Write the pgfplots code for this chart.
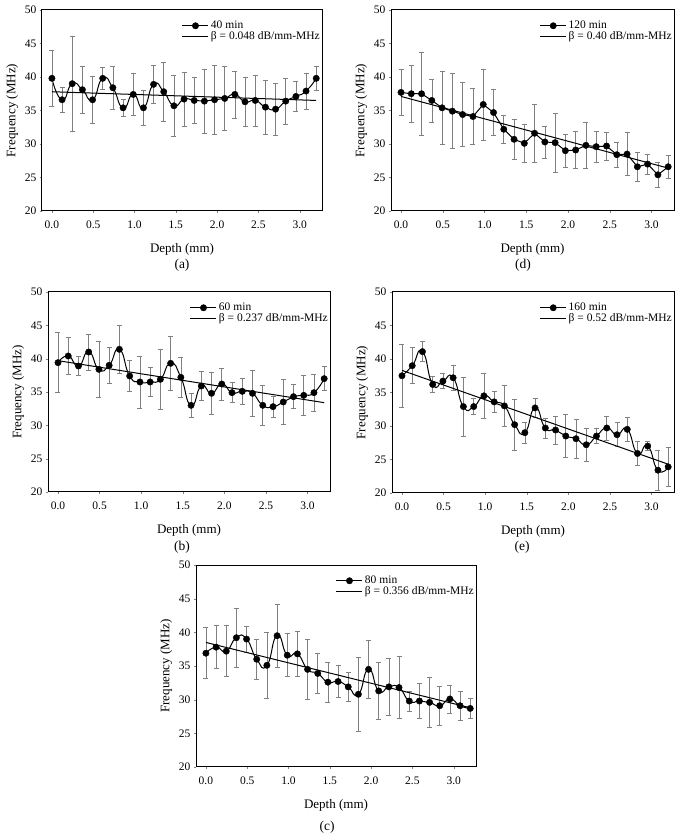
\documentclass[border=0pt]{standalone}
\usepackage{fontspec}
\setmainfont{Liberation Serif}
\usepackage{pgfplots}
\usepackage{pgfplotstable}
\pgfplotsset{compat=1.18}

% depth (mm), mean frequency (MHz), std
\pgfplotstableread{
x     y     e
0.000 39.8 4.2
0.123 36.6 1.9
0.246 39.0 7.1
0.369 38.1 3.5
0.492 36.6 3.5
0.615 39.8 1.6
0.738 38.4 3.2
0.862 35.4 1.3
0.985 37.4 3.1
1.108 35.4 2.6
1.231 38.9 2.9
1.354 37.8 4.4
1.477 35.7 4.5
1.600 36.7 4.0
1.723 36.5 3.4
1.846 36.4 4.8
1.969 36.6 5.2
2.092 36.8 4.8
2.215 37.4 3.5
2.338 36.3 3.7
2.462 36.5 3.8
2.585 35.5 4.0
2.708 35.2 3.9
2.831 36.4 3.4
2.954 37.1 2.2
3.077 37.9 2.7
3.200 39.8 1.8
}\tabA

\pgfplotstableread{
x     y     e
0.000 39.4 4.5
0.123 40.4 2.8
0.246 38.9 1.4
0.369 41.0 2.7
0.492 38.4 4.2
0.615 39.0 2.7
0.738 41.4 3.6
0.862 37.4 2.3
0.985 36.5 3.9
1.108 36.5 2.2
1.231 36.9 4.5
1.354 39.3 4.0
1.477 37.2 3.0
1.600 33.0 1.8
1.723 35.9 2.2
1.846 34.8 3.1
1.969 36.2 2.4
2.092 34.9 1.5
2.215 35.1 2.0
2.338 34.8 3.4
2.462 33.0 3.0
2.585 32.8 1.6
2.708 33.5 3.4
2.831 34.3 1.8
2.954 34.5 3.0
3.077 34.9 2.8
3.200 37.0 1.8
}\tabB

\pgfplotstableread{
x     y     e
0.000 36.9 3.8
0.123 37.8 3.2
0.246 37.2 3.8
0.369 39.2 4.4
0.492 39.0 1.9
0.615 36.0 3.0
0.738 35.1 4.9
0.862 39.5 4.7
0.985 36.6 3.2
1.108 36.8 3.4
1.231 34.5 4.4
1.354 33.9 3.0
1.477 32.6 3.0
1.600 32.7 2.4
1.723 31.9 2.2
1.846 30.8 5.5
1.969 34.5 4.3
2.092 31.3 4.2
2.215 31.9 4.2
2.338 31.8 4.6
2.462 29.8 1.5
2.585 29.8 2.6
2.708 29.6 3.7
2.831 29.1 2.9
2.954 30.1 2.1
3.077 29.1 2.1
3.200 28.7 1.5
}\tabC

\pgfplotstableread{
x     y     e
0.000 37.7 3.4
0.123 37.5 4.3
0.246 37.5 6.2
0.369 36.5 3.2
0.492 35.4 5.4
0.615 34.9 5.6
0.738 34.4 4.8
0.862 34.1 4.2
0.985 35.9 5.3
1.108 34.7 3.4
1.231 32.2 2.1
1.354 30.7 3.0
1.477 30.1 2.9
1.600 31.6 4.3
1.723 30.3 2.4
1.846 30.2 4.4
1.969 29.0 2.5
2.092 29.1 2.8
2.215 29.8 3.4
2.338 29.6 2.3
2.462 29.7 2.1
2.585 28.4 1.9
2.708 28.5 3.2
2.831 26.6 2.2
2.954 27.0 1.5
3.077 25.4 1.9
3.200 26.6 1.7
}\tabD

\pgfplotstableread{
x     y     e
0.000 37.5 4.7
0.123 39.0 2.7
0.246 41.1 1.5
0.369 36.2 1.2
0.492 36.7 1.1
0.615 37.2 1.9
0.738 32.9 4.4
0.862 32.9 1.2
0.985 34.5 3.3
1.108 33.6 1.6
1.231 33.0 3.0
1.354 30.2 3.8
1.477 29.0 1.6
1.600 32.7 1.4
1.723 29.7 1.5
1.846 29.4 2.1
1.969 28.5 3.2
2.092 28.1 2.9
2.215 27.2 2.5
2.338 28.5 1.1
2.462 29.7 1.8
2.585 28.7 1.8
2.708 29.5 1.8
2.831 25.9 1.8
2.954 27.0 0.7
3.077 23.4 3.0
3.200 23.9 2.9
}\tabE

\pgfplotsset{
  panel/.style={
    scale only axis, width=280pt, height=201pt,
    anchor=south west,
    xmin=-0.12, xmax=3.27, ymin=20, ymax=50,
    xtick={0,0.5,1,1.5,2,2.5,3},
    ytick={20,25,30,35,40,45,50},
    tick align=outside, tick pos=left,
    major tick length=2pt,
    axis line style={line width=1pt},
    /pgf/number format/assume math mode=true,
    xticklabel style={yshift=-4pt, /pgf/number format/.cd, fixed, fixed zerofill, precision=1},
    ticklabel style={font=\fontsize{11.5}{13}\selectfont},
    label style={font=\fontsize{13}{15}\selectfont},
    xlabel style={yshift=-8pt},
    xlabel={Depth (mm)}, ylabel={Frequency (MHz)},
    legend style={draw=none, fill=none, at={(1,1)}, anchor=north east,
      xshift=3pt, yshift=-7pt, row sep=-3pt,
      font=\fontsize{11.5}{12}\selectfont},
    legend cell align=left,
    legend image code/.code={\draw[##1] (0pt,0pt) -- (26pt,0pt);},
  },
  % connecting curve of the means
  trace/.style={black, line width=1pt, no marks, forget plot},
  % the means with their error bars
  meas/.style={black, only marks, mark=*, mark size=3.2pt,
    error bars/y dir=both, error bars/y explicit,
    error bars/error bar style={black!50, line width=0.6pt},
    error bars/error mark options={rotate=90, mark size=2.5pt, black!50, line width=0.6pt},
    legend image code/.code={\draw[black, line width=1pt] (0pt,0pt) -- (26pt,0pt);
      \fill[black] (13pt,0pt) circle (3.2pt);}},
  fit/.style={black, line width=1pt, no marks},
}

\begin{document}
\begin{tikzpicture}
\path[use as bounding box] (0,0) rectangle (679pt,839pt);

% (a)
\begin{axis}[panel, at={(42pt,628pt)}]
  \addplot[trace, smooth, tension=1] table[x=x, y=y] {\tabA};
  \addplot[meas] table[x=x, y=y, y error=e] {\tabA};
  \addplot[fit] coordinates {(0,37.8) (3.2,36.5)};
  \legend{40 min, β = 0.048 dB/mm-MHz}
\end{axis}

% (d)
\begin{axis}[panel, at={(391pt,628pt)}, width=283pt]
  \addplot[trace] table[x=x, y=y] {\tabD};
  \addplot[meas] table[x=x, y=y, y error=e] {\tabD};
  \addplot[fit] coordinates {(0,37.1) (3.2,26.4)};
  \legend{120 min, β = 0.40 dB/mm-MHz}
\end{axis}

% (b)
\begin{axis}[panel, at={(48pt,347pt)}, width=282pt, height=200pt]
  \addplot[trace, smooth, tension=1] table[x=x, y=y] {\tabB};
  \addplot[meas] table[x=x, y=y, y error=e] {\tabB};
  \addplot[fit] coordinates {(0,39.7) (3.2,33.4)};
  \legend{60 min, β = 0.237 dB/mm-MHz}
\end{axis}

% (e)
\begin{axis}[panel, at={(392pt,346pt)}, width=282pt]
  \addplot[trace, smooth, tension=1] table[x=x, y=y] {\tabE};
  \addplot[meas] table[x=x, y=y, y error=e] {\tabE};
  \addplot[fit] coordinates {(0,38.3) (3.2,24.3)};
  \legend{160 min, β = 0.52 dB/mm-MHz}
\end{axis}

% (c)
\begin{axis}[panel, at={(196pt,72pt)}, height=202pt]
  \addplot[trace, smooth, tension=1] table[x=x, y=y] {\tabC};
  \addplot[meas] table[x=x, y=y, y error=e] {\tabC};
  \addplot[fit] coordinates {(0,38.5) (3.2,28.8)};
  \legend{80 min, β = 0.356 dB/mm-MHz}
\end{axis}

\begin{scope}[every node/.style={font=\fontsize{13.5}{15}\selectfont}]
  \node at (182pt,574pt) {(a)};
  \node at (523pt,574pt) {(d)};
  \node at (182pt,292pt) {(b)};
  \node at (522pt,292pt) {(e)};
  \node at (327pt,12pt) {(c)};
\end{scope}
\end{tikzpicture}
\end{document}
